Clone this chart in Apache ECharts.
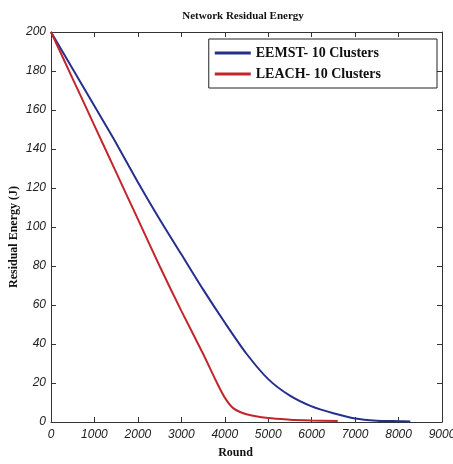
<!DOCTYPE html>
<html>
<head>
<meta charset="utf-8">
<script src="https://cdn.jsdelivr.net/npm/echarts@6/dist/echarts.min.js"></script>
<style>
  html, body { margin: 0; padding: 0; background: #fff; }
  #chart { width: 453px; height: 464px; }
</style>
</head>
<body>
<div id="chart"></div>
<script>
// values
const eemstRounds = [0, 500, 1000, 1500, 2000, 2500, 3000, 3500, 4000, 4500, 5000, 5500, 6000, 6500, 7000, 7500, 8000, 8270]
const eemstEnergy = [200, 181, 162, 143, 123, 104, 86, 68, 51, 35, 22, 13.5, 8, 4.5, 1.8, 0.7, 0.4, 0.3]
const leachRounds = [0, 500, 1000, 1500, 2000, 2500, 3000, 3500, 3800, 4000, 4200, 4500, 5000, 5500, 6000, 6600]
const leachEnergy = [200, 176, 152, 128, 104, 80, 57, 35, 21, 12.5, 7, 4, 2, 1.2, 0.8, 0.5]
const xTicks = [0, 1000, 2000, 3000, 4000, 5000, 6000, 7000, 8000, 9000]
const yTicks = [0, 20, 40, 60, 80, 100, 120, 140, 160, 180, 200]

const pairs = (xs, ys) => xs.map((x, i) => [x, ys[i]])

const serif = 'Liberation Serif'
const tickLabel = {
  fontFamily: 'Liberation Sans', fontStyle: 'italic', fontSize: 12, color: '#222',
  formatter: v => String(v)
}
const lineStyle = { color: '#333', width: 1 }
const tick = { inside: true, length: 5, lineStyle: { color: '#333' } }

const chart = echarts.init(document.getElementById('chart'))
chart.setOption({
  animation: false,
  title: {
    text: 'Network Residual Energy',
    left: 238, top: 6, textAlign: 'center',
    textStyle: { fontFamily: serif, fontWeight: 'bold', fontSize: 11, color: '#111' }
  },
  legend: {
    orient: 'vertical',
    right: 16, top: 39,
    backgroundColor: '#fff',
    borderColor: '#222', borderWidth: 1, borderRadius: 0,
    padding: [7, 56, 7, 6],
    itemGap: 7,
    itemWidth: 36, itemHeight: 3,
    icon: 'rect',
    textStyle: { fontFamily: serif, fontWeight: 'bold', fontSize: 14, color: '#111' },
    data: ['EEMST- 10 Clusters', 'LEACH- 10 Clusters']
  },
  grid: { left: 51, right: 11, top: 32, bottom: 42, outerBoundsMode: 'none', containLabel: false },
  xAxis: [{
    type: 'value', min: 0, max: 9000, interval: 1000,
    name: 'Round', nameLocation: 'middle', nameGap: 25, nameMoveOverlap: false,
    nameTextStyle: { fontFamily: serif, fontWeight: 'bold', fontSize: 12, color: '#111', padding: [0, 22, 0, 0] },
    axisLine: { show: true, onZero: false, lineStyle }, axisTick: tick,
    axisLabel: Object.assign({ margin: 7, showMaxLabel: true, customValues: xTicks }, tickLabel),
    splitLine: { show: false }
  }, {
    type: 'value', position: 'top', min: 0, max: 9000, interval: 1000,
    axisLine: { show: true, onZero: false, lineStyle }, axisTick: tick,
    axisLabel: { show: false }, splitLine: { show: false }
  }],
  yAxis: [{
    type: 'value', min: 0, max: 200, interval: 20,
    name: 'Residual Energy (J)', nameLocation: 'middle', nameGap: 31, nameMoveOverlap: false,
    nameTextStyle: { fontFamily: serif, fontWeight: 'bold', fontSize: 12, color: '#111', padding: [0, 20, 0, 0] },
    axisLine: { show: true, onZero: false, lineStyle }, axisTick: tick,
    axisLabel: Object.assign({ margin: 5, customValues: yTicks }, tickLabel),
    splitLine: { show: false }
  }, {
    type: 'value', position: 'right', min: 0, max: 200, interval: 20,
    axisLine: { show: true, onZero: false, lineStyle }, axisTick: tick,
    axisLabel: { show: false }, splitLine: { show: false }
  }],
  series: [{
    name: 'EEMST- 10 Clusters', type: 'line', symbol: 'none', smooth: 0.25,
    color: '#26308c', lineStyle: { width: 2 },
    data: pairs(eemstRounds, eemstEnergy)
  }, {
    name: 'LEACH- 10 Clusters', type: 'line', symbol: 'none', smooth: 0.3,
    color: '#c2262c', lineStyle: { width: 2 },
    data: pairs(leachRounds, leachEnergy)
  }]
})
</script>
</body>
</html>
